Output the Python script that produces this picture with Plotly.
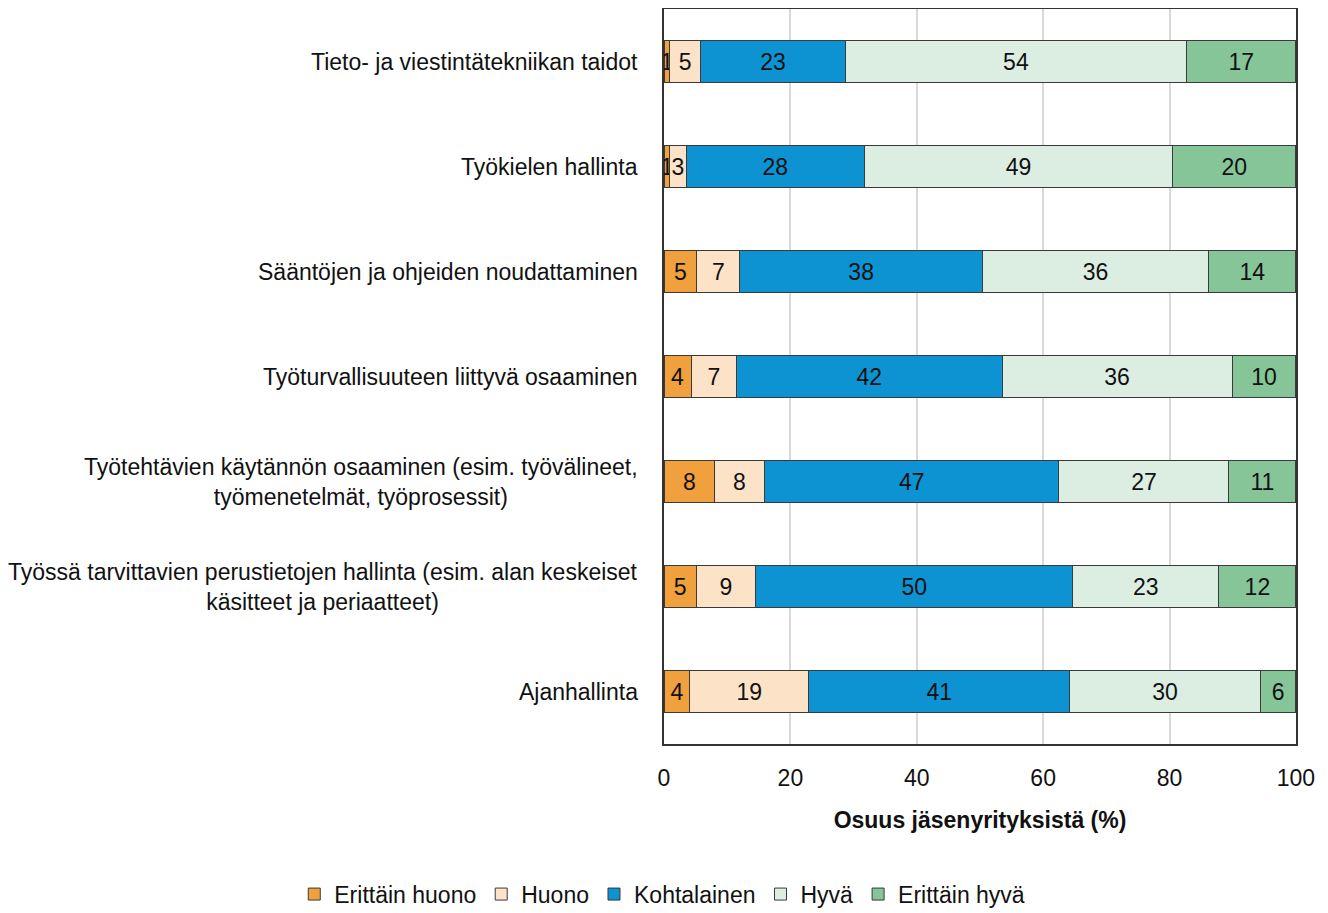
import plotly.graph_objects as go

categories = [
    "Tieto- ja viestintätekniikan taidot",
    "Työkielen hallinta",
    "Sääntöjen ja ohjeiden noudattaminen",
    "Työturvallisuuteen liittyvä osaaminen",
    "Työtehtävien käytännön osaaminen (esim. työvälineet,<br>työmenetelmät, työprosessit)",
    "Työssä tarvittavien perustietojen hallinta (esim. alan keskeiset<br>käsitteet ja periaatteet)",
    "Ajanhallinta",
]

series_names = ["Erittäin huono", "Huono", "Kohtalainen", "Hyvä", "Erittäin hyvä"]

erittain_huono = [0.9, 0.9, 5.2, 4.3, 8.0, 5.1, 4.1]
huono = [4.9, 2.6, 6.8, 7.2, 7.9, 9.4, 18.8]
kohtalainen = [22.9, 28.2, 38.4, 42.0, 46.6, 50.2, 41.3]
hyva = [54.0, 48.8, 35.8, 36.4, 26.9, 23.1, 30.2]
erittain_hyva = [17.3, 19.5, 13.8, 10.1, 10.6, 12.2, 5.6]

labels_eh = [1, 1, 5, 4, 8, 5, 4]
labels_h = [5, 3, 7, 7, 8, 9, 19]
labels_k = [23, 28, 38, 42, 47, 50, 41]
labels_hy = [54, 49, 36, 36, 27, 23, 30]
labels_ehy = [17, 20, 14, 10, 11, 12, 6]

x_ticks = [0, 20, 40, 60, 80, 100]

colors = ["#F0A03C", "#FCE3C8", "#0E93D2", "#DCEEE2", "#86C597"]

FONT = "Liberation Sans Narrow, Arial Narrow, Liberation Sans, Arial, sans-serif"
TXT = "#111111"

fig = go.Figure()
all_vals = [erittain_huono, huono, kohtalainen, hyva, erittain_hyva]
all_labels = [labels_eh, labels_h, labels_k, labels_hy, labels_ehy]
for name, vals, labs, col in zip(series_names, all_vals, all_labels, colors):
    fig.add_trace(go.Bar(
        y=categories,
        x=vals,
        name=name,
        orientation="h",
        marker=dict(color=col, line=dict(color="#3a3a3a", width=1)),
        text=[str(v) for v in labs],
        textposition="inside",
        insidetextanchor="middle",
        textangle=0,
        constraintext="none",
        textfont=dict(family=FONT, size=23, color=TXT),
        width=0.4,
        cliponaxis=False,
    ))

for cat in categories:
    fig.add_annotation(
        x=0, xref="paper", y=cat, yref="y",
        text=cat, showarrow=False, xanchor="right", align="center",
        xshift=-24, font=dict(family=FONT, size=23, color=TXT),
    )

fig.update_layout(
    barmode="stack",
    width=1320, height=905,
    margin=dict(l=656, r=32, t=1, b=169, autoexpand=False),
    plot_bgcolor="white",
    paper_bgcolor="white",
    showlegend=True,
    legend=dict(
        orientation="h", x=-0.585, xanchor="left", xref="paper",
        y=-0.175, yanchor="top", yref="paper",
        font=dict(family=FONT, size=23, color=TXT),
        traceorder="normal", itemwidth=30,
    ),
    font=dict(family=FONT, size=23, color=TXT),
)
fig.update_xaxes(
    range=[0, 100.01], tickvals=x_ticks, ticktext=[str(t) for t in x_ticks],
    showgrid=True, gridcolor="#d9d9d9", gridwidth=1.5,
    showline=True, linecolor="#333333", linewidth=1.5, mirror=True,
    ticks="", ticklabelstandoff=13,
    tickfont=dict(family=FONT, size=23, color=TXT),
    title=dict(text="<b>Osuus jäsenyrityksistä (%)</b>", standoff=22,
               font=dict(family=FONT, size=23, color=TXT)),
    zeroline=False,
)
fig.update_yaxes(
    autorange="reversed", showticklabels=False, showgrid=False,
    showline=True, linecolor="#333333", linewidth=1.5, mirror=True, ticks="",
)

fig.write_html("out.html")
